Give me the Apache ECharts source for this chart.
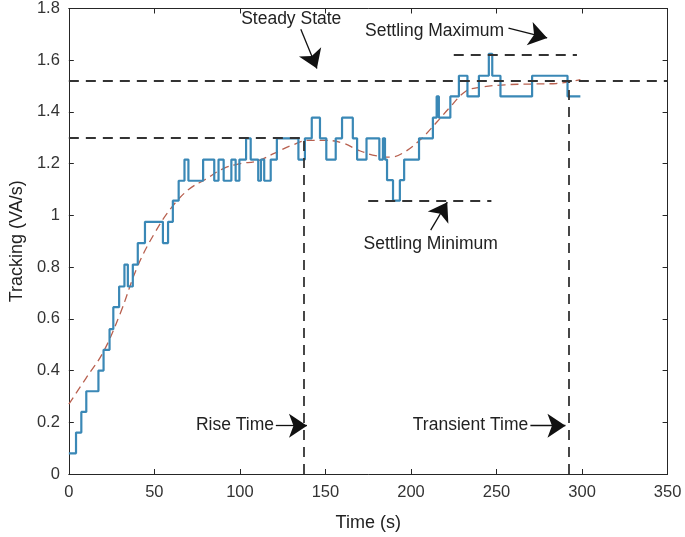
<!DOCTYPE html>
<html><head><meta charset="utf-8">
<script src="https://cdn.jsdelivr.net/npm/echarts@6/dist/echarts.min.js"></script>
<style>html,body{margin:0;padding:0;background:#fff}#c{width:685px;height:537px}</style>
</head><body><div id="c"></div>
<script>
// Step response (value holds from time until next time)
const stepTimes = [0,4.2,7.3,10.2,17.3,20.3,23.8,26,29.4,32.5,34.5,37.4,40.3,44.5,55,58,60.8,64.2,67.6,69.9,
  78.5,85,87.5,90.5,95,97.5,99.7,103.6,106.3,110.7,112.3,114.2,118,121.6,134.2,138,142,146.8,150.5,156,159.7,
  166,168.5,174,181.5,183.6,184.8,186,189.5,193.5,196,204.7,212.8,215,216.3,223,228,233,239.7,245.5,247.5,252.3,
  270.8,291.5,299];
const stepValues = [0.08,0.16,0.24,0.32,0.40,0.48,0.56,0.645,0.725,0.81,0.725,0.81,0.893,0.975,0.893,0.975,1.057,1.134,1.216,1.134,
  1.216,1.134,1.216,1.134,1.216,1.134,1.216,1.298,1.216,1.134,1.216,1.134,1.216,1.298,1.216,1.298,1.378,1.298,1.216,1.298,1.378,
  1.298,1.216,1.298,1.216,1.298,1.216,1.136,1.057,1.136,1.216,1.298,1.378,1.46,1.378,1.46,1.54,1.46,1.54,1.625,1.54,1.46,
  1.54,1.46,1.46];

// Fitted trend (red dashed)
const fitTimes = [0,10,20,30,40,50,60,70,80,90,100,110,120,130,140,150,160,170,180,188,195,205,215,223,232,240,255,270,285,299];
const fitValues = [0.27,0.37,0.47,0.62,0.80,0.93,1.03,1.10,1.14,1.18,1.20,1.21,1.24,1.27,1.29,1.29,1.28,1.25,1.23,1.225,1.24,1.29,1.36,1.42,1.48,1.495,1.505,1.508,1.51,1.525];

// Reference dashed lines (start / end in data coords)
const refFrom = [[0,1.52],[0,1.3],[137.4,0],[292,0],[225,1.622],[175,1.055]];
const refTo   = [[350,1.52],[137.4,1.3],[137.4,1.3],[292,1.52],[297,1.622],[247,1.055]];

// Annotations
const annoLabels = ['Steady State','Settling Maximum','Settling Minimum','Rise Time','Transient Time'];
const annoTextPos = [[130,1.758],[213.8,1.711],[211.5,0.89],[97.1,0.189],[234.8,0.187]];
const arrowFrom = [[135.6,1.72],[257,1.724],[211.5,0.943],[121,0.187],[269.8,0.187]];
const arrowTo   = [[145,1.568],[279.6,1.686],[221.2,1.051],[139.2,0.187],[290.3,0.187]];

const xTicks = {min:0, max:350, interval:50};
const yTicks = {min:0, max:1.8, interval:0.2};

const FONT = "'Liberation Sans', Arial, sans-serif";
const axisColor = '#262626';

const chart = echarts.init(document.getElementById('c'));

function mkX(pos, show){
  return {type:'value', min:xTicks.min, max:xTicks.max, interval:xTicks.interval, position:pos,
    axisLine:{show:true,onZero:false,lineStyle:{color:axisColor,width:1}},
    axisTick:{show:true,inside:true,length:5,lineStyle:{color:axisColor}},
    axisLabel:{show:show,margin:10,fontSize:16.5,color:'#333',fontFamily:FONT},
    splitLine:{show:false},
    name: show ? 'Time (s)' : '', nameLocation:'middle', nameGap:40,
    nameTextStyle:{fontSize:18,color:'#222',fontFamily:FONT}};
}
function mkY(pos, show){
  return {type:'value', min:yTicks.min, max:yTicks.max, interval:yTicks.interval, position:pos,
    axisLine:{show:true,onZero:false,lineStyle:{color:axisColor,width:1}},
    axisTick:{show:true,inside:true,length:5,lineStyle:{color:axisColor}},
    axisLabel:{show:show,margin:9,fontSize:16.5,color:'#333',fontFamily:FONT},
    splitLine:{show:false},
    name: show ? 'Tracking (VA/s)' : '', nameLocation:'middle', nameGap:40,
    nameTextStyle:{fontSize:18,color:'#222',fontFamily:FONT}};
}

const refData = refFrom.map((f,i)=>[{coord:f},{coord:refTo[i]}]);
const arrowData = arrowFrom.map((f,i)=>[{coord:f},{coord:arrowTo[i]}]);

chart.setOption({
  animation:false,
  grid:{left:67.5, right:17.4, top:5, bottom:59.4, containLabel:false},
  xAxis:[mkX('bottom',true), mkX('top',false)],
  yAxis:[mkY('left',true), mkY('right',false)],
  series:[
    {type:'line', name:'fit', data:fitTimes.map((t,i)=>[t,fitValues[i]]), smooth:0.4, showSymbol:false,
     lineStyle:{color:'#b8604f', width:1.3, type:[8,5]}, z:3},
    {type:'line', name:'tracking', data:stepTimes.map((t,i)=>[t,stepValues[i]]), step:'end', showSymbol:false,
     lineStyle:{color:'#3a88b6', width:2.2}, z:4},
    {type:'line', name:'refs', data:[], markLine:{silent:true, symbol:['none','none'], label:{show:false},
      lineStyle:{color:'#333', width:1.8, type:[10,7]}, data:refData}, z:5},
    {type:'line', name:'arrows', data:[], markLine:{silent:true, symbol:['none','arrow'], symbolSize:18, label:{show:false},
      lineStyle:{color:'#111', width:1.3, type:'solid'}, data:arrowData}, z:6}
  ]
});

const gtexts = annoLabels.map((txt,i)=>{
  const p = chart.convertToPixel({xAxisIndex:0,yAxisIndex:0}, annoTextPos[i]);
  return {type:'text', x:p[0], y:p[1], z:10,
    style:{text:txt, fontSize:17.5, fontFamily:FONT, fill:'#222', align:'center', verticalAlign:'middle'}};
});
chart.setOption({graphic:gtexts});
</script>
</body></html>
